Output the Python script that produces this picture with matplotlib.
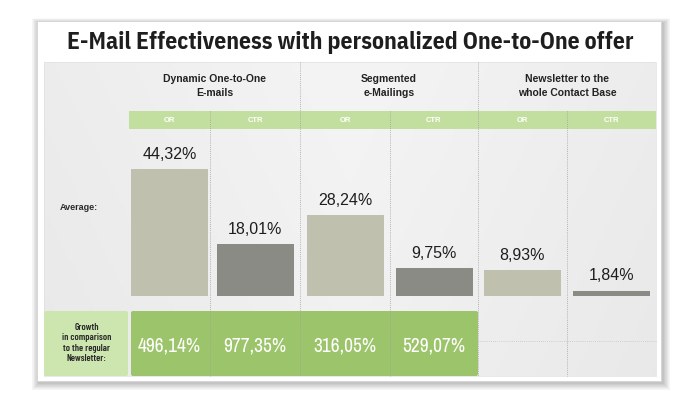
import matplotlib
matplotlib.use("Agg")
import matplotlib.pyplot as plt
from matplotlib.patches import Rectangle, FancyBboxPatch
import numpy as np

plt.rcParams['font.family'] = ['Liberation Sans', 'DejaVu Sans']
COND = ['IBM Plex Sans Condensed', 'DejaVu Sans']
TIGHT = ['Barlow Condensed', 'DejaVu Sans']
NARROW = ['Archivo Narrow', 'DejaVu Sans']

# data
title = "E-Mail Effectiveness with personalized One-to-One offer"
groups = ["Dynamic One-to-One\nE-mails", "Segmented\ne-Mailings", "Newsletter to the\nwhole Contact Base"]
metrics = ["OR", "CTR", "OR", "CTR", "OR", "CTR"]
average = [44.32, 18.01, 28.24, 9.75, 8.93, 1.84]
growth = [496.14, 977.35, 316.05, 529.07]
row_avg = "Average:"
row_growth = "Growth\nin comparison\nto the regular\nNewsletter:"

# layout (pixels)
W, H = 700, 406
cols = [129, 210, 300, 390, 478, 567, 656]
centers = [(a + b) / 2 for a, b in zip(cols[:-1], cols[1:])]
base_y, top_y = 297, 130
px_per_unit = 2.86

c_or, c_ctr = "#bfc0ad", "#8a8b85"
c_head = "#c3df9f"
c_grow = "#9cc46a"
c_lab = "#cde5ae"

fig = plt.figure(figsize=(W / 100, H / 100), dpi=100)
bg = fig.add_axes([0, 0, 1, 1])
bg.set_xlim(0, W)
bg.set_ylim(H, 0)
bg.axis("off")

# card shadow + card
for k in range(12, 0, -1):
    bg.add_patch(Rectangle((37 - k * 0.6 + 2, 22 - k * 0.4 + 2), 624 + k * 1.2, 360 + k * 1.0,
                           facecolor="black", alpha=0.02, lw=0))
bg.add_patch(Rectangle((37, 22), 624, 360, facecolor="white", edgecolor="#d4d4d4", lw=0.6))

# panel with soft gradient
gx = np.linspace(0, 1, 200)
gy = np.linspace(0, 1, 100)
GX, GY = np.meshgrid(gx, gy)
shade = 0.955 - 0.03 * np.abs(GX - 0.5) * 2 - 0.015 * GY
bg.imshow(shade, cmap="gray", vmin=0, vmax=1, extent=(44, 656, 377, 63), aspect="auto", zorder=1)
bg.add_patch(Rectangle((44, 63), 612, 314, facecolor="none", edgecolor="#e0e0e0", lw=0.5, zorder=2))

# title
bg.text(W / 2, 43, title, ha="center", va="center", fontsize=17, fontweight="bold",
        color="#1e1e1e", family=COND, zorder=5)

# header row
bg.add_patch(Rectangle((cols[0], 112), cols[-1] - cols[0], 18, facecolor=c_head, lw=0, zorder=2))
for i, m in enumerate(metrics):
    bg.text(centers[i], 121, m, ha="center", va="center", fontsize=5.5, fontweight="bold",
            color="white", zorder=5)
for g, name in enumerate(groups):
    bg.text((cols[2 * g] + cols[2 * g + 2]) / 2, 86, name, ha="center", va="center",
            fontsize=7.5, fontweight="bold", color="#222222", linespacing=1.5, zorder=5)

# growth row
bg.add_patch(FancyBboxPatch((44, 312), cols[0] - 44 - 1, 65, boxstyle="round,pad=0,rounding_size=2",
                            facecolor=c_lab, lw=0, zorder=2))
bg.add_patch(FancyBboxPatch((cols[0] + 2, 312), cols[4] - cols[0] - 2, 65,
                            boxstyle="round,pad=0,rounding_size=2", facecolor=c_grow, lw=0, zorder=2))
bg.text((44 + cols[0]) / 2, 343, row_growth, ha="center", va="center", fontsize=7,
        fontweight="semibold", color="#2a2a2a", family=TIGHT, linespacing=1.15, zorder=5)
for i, v in enumerate(growth):
    bg.text(centers[i], 346, f"{v:.2f}%".replace(".", ","), ha="center", va="center",
            fontsize=14, color="white", family=NARROW, zorder=5)

# dividers
for j, x in enumerate(cols[1:-1]):
    y0 = 63 if j in (1, 3) else 112
    bg.plot([x, x], [y0, 377], ls=(0, (1, 1.5)), color="#a0a0a0", lw=0.6, zorder=3)
bg.plot([cols[4], cols[-1]], [342, 342], ls=(0, (1, 1.5)), color="#c4c4c4", lw=0.6, zorder=3)

bg.text(79, 208, row_avg, ha="center", va="center", fontsize=6.5, fontweight="bold",
        color="#2a2a2a", zorder=5)

# bars
ax = fig.add_axes([cols[0] / W, (H - base_y) / H, (cols[-1] - cols[0]) / W, (base_y - top_y) / H])
ax.set_xlim(cols[0], cols[-1])
ax.set_ylim(0, (base_y - top_y) / px_per_unit)
ax.patch.set_alpha(0)
ax.axis("off")
bars = ax.bar(centers, average, width=77, color=[c_or, c_ctr] * 3, lw=0, zorder=4)
for b, v in zip(bars, average):
    ax.annotate(f"{v:.2f}%".replace(".", ","), (b.get_x() + b.get_width() / 2, v),
                xytext=(0, 6), textcoords="offset points", ha="center", va="bottom",
                fontsize=11.5, color="#1e1e1e")

fig.savefig("out.png", dpi=100)
